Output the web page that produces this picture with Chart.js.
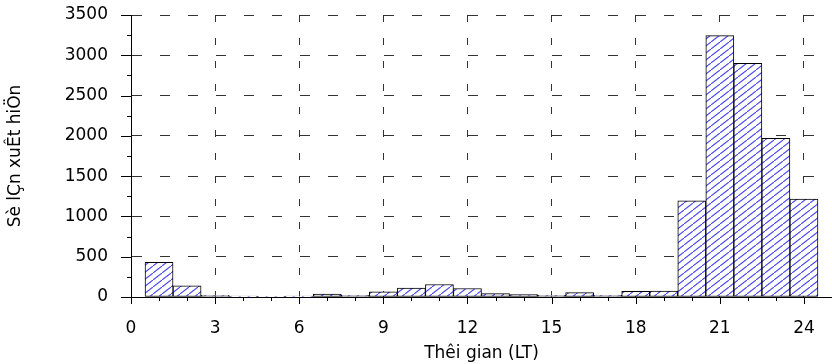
<!DOCTYPE html>
<html>
<head>
<meta charset="utf-8">
<script src="https://cdn.jsdelivr.net/npm/chart.js@4.4.1/dist/chart.umd.min.js"></script>
<style>
  html, body { margin: 0; padding: 0; background: #fff; }
</style>
</head>
<body>
<canvas id="histChart" width="832" height="364"></canvas>
<script>
// Tâm các khoảng giờ (LT) và số lần xuất hiện
const hours = [1, 2, 3, 4, 5, 6, 7, 8, 9, 10, 11, 12,
               13, 14, 15, 16, 17, 18, 19, 20, 21, 22, 23, 24];
const counts = [430, 140, 20, 10, 5, 10, 35, 20, 65, 110, 155, 105,
                42, 30, 20, 55, 20, 70, 75, 1195, 3245, 2900, 1970, 1215];

// Nhãn trục
const xTicks = [0, 3, 6, 9, 12, 15, 18, 21, 24];
const yTicks = [0, 500, 1000, 1500, 2000, 2500, 3000, 3500];
const xMinorStep = 1;
const yMinorStep = 250;

const FONT = "'DejaVu Sans', sans-serif";

// Mẫu gạch chéo xanh trên nền trắng
function makeHatch() {
    const c = document.createElement("canvas");
    c.width = 9;
    c.height = 7;
    const g = c.getContext("2d");
    g.fillStyle = "#ffffff";
    g.fillRect(0, 0, 9, 7);
    g.strokeStyle = "#4646f0";
    g.lineWidth = 1.1;
    g.beginPath();
    g.moveTo(-9, 14);
    g.lineTo(18, -7);
    g.stroke();
    return g.createPattern(c, "repeat");
}

// Vạch chia chính / phụ trên hai trục
const tickMarks = {
    id: "tickMarks",
    afterDraw(chart) {
        const ctx = chart.ctx;
        const xs = chart.scales.x;
        const ys = chart.scales.y;
        const area = chart.chartArea;
        ctx.save();
        ctx.strokeStyle = "#000";
        ctx.lineWidth = 1;
        ctx.beginPath();
        for (let v = xs.min; v <= xs.max; v += xMinorStep) {
            const px = Math.round(xs.getPixelForValue(v)) + 0.5;
            const len = xTicks.includes(v) ? 7 : 4;
            ctx.moveTo(px, area.bottom);
            ctx.lineTo(px, area.bottom + len);
        }
        for (let v = ys.min; v <= ys.max; v += yMinorStep) {
            const py = Math.round(ys.getPixelForValue(v)) + 0.5;
            const len = yTicks.includes(v) ? 10 : 4;
            ctx.moveTo(area.left, py);
            ctx.lineTo(area.left - len, py);
        }
        ctx.stroke();
        ctx.restore();
    }
};

const ctx = document.getElementById("histChart").getContext("2d");

new Chart(ctx, {
    type: "bar",
    data: {
        datasets: [{
            data: hours.map((h, i) => ({ x: h, y: counts[i] })),
            backgroundColor: makeHatch(),
            borderColor: "#000",
            borderWidth: 1,
            borderSkipped: false,
            barPercentage: 1,
            categoryPercentage: 1
        }]
    },
    options: {
        responsive: false,
        animation: false,
        layout: { padding: 0 },
        plugins: {
            legend: { display: false },
            tooltip: { enabled: false }
        },
        scales: {
            x: {
                type: "linear",
                min: 0,
                max: 25,
                offset: false,
                afterBuildTicks: s => { s.ticks = xTicks.map(v => ({ value: v })); },
                afterFit: s => { s.height = 67; s.paddingRight = 0; },
                ticks: {
                    padding: 21,
                    color: "#000",
                    maxRotation: 0,
                    callback: v => String(v),
                    font: { family: FONT, size: 17 }
                },
                grid: {
                    offset: false,
                    drawTicks: false,
                    color: "#333",
                    lineWidth: 1
                },
                border: { display: true, color: "#000", width: 1, dash: [7, 16] },
                title: {
                    display: true,
                    text: "Thêi gian (LT)",
                    color: "#000",
                    font: { family: FONT, size: 17 },
                    padding: { top: 0, bottom: 0 }
                }
            },
            y: {
                min: 0,
                max: 3500,
                afterBuildTicks: s => { s.ticks = yTicks.map(v => ({ value: v })); },
                afterFit: s => { s.width = 131; s.paddingTop = 15; s.paddingBottom = 0; },
                ticks: {
                    padding: 23,
                    color: "#000",
                    callback: v => String(v),
                    font: { family: FONT, size: 17 }
                },
                grid: {
                    drawTicks: false,
                    color: "#333",
                    lineWidth: 1
                },
                border: { display: true, color: "#000", width: 1, dash: [10, 18] },
                title: {
                    display: true,
                    text: "Sè lÇn xuÊt hiÖn",
                    color: "#000",
                    font: { family: FONT, size: 17 },
                    padding: { top: 5, bottom: 0 }
                }
            }
        }
    },
    plugins: [tickMarks]
});
</script>
</body>
</html>
